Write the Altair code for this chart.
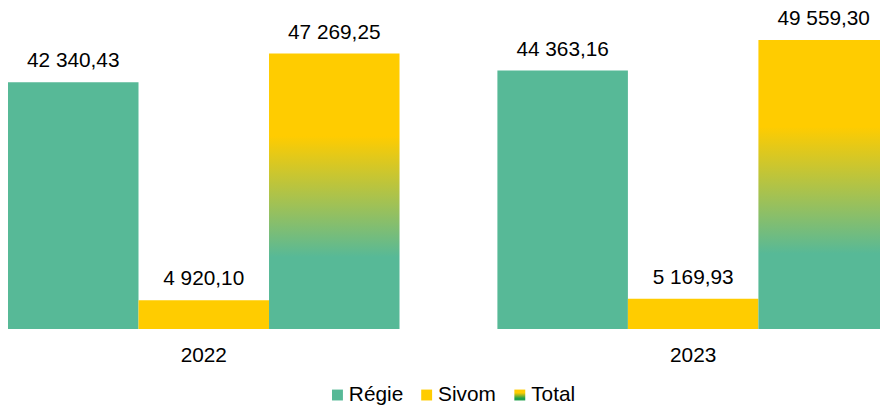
import altair as alt
import pandas as pd

years = ["2022", "2023"]
series = ["Régie", "Sivom", "Total"]
regie = [42340.43, 44363.16]
sivom = [4920.10, 5169.93]
total = [47269.25, 49559.30]

TEAL = "#57B997"
YELLOW = "#FFCC00"
GREEN = "#1FA04A"
FONT = "Liberation Sans"


def fr(v):
    return f"{v:,.2f}".replace(",", " ").replace(".", ",")


rows = []
for i, yr in enumerate(years):
    for s, vals in zip(series, [regie, sivom, total]):
        rows.append({"year": yr, "series": s, "value": vals[i], "label": fr(vals[i])})
df = pd.DataFrame(rows)

bar_grad = alt.Gradient(
    gradient="linear",
    stops=[
        alt.GradientStop(color=YELLOW, offset=0),
        alt.GradientStop(color=YELLOW, offset=0.3),
        alt.GradientStop(color=TEAL, offset=0.74),
        alt.GradientStop(color=TEAL, offset=1),
    ],
    x1=0, x2=0, y1=0, y2=1,
)

legend_grad_expr = (
    "{gradient: 'linear', x1: 0, y1: 0, x2: 0, y2: 1, stops: ["
    "{offset: 0, color: '" + YELLOW + "'}, {offset: 0.3, color: '" + YELLOW + "'},"
    "{offset: 0.8, color: '" + GREEN + "'}, {offset: 1, color: '" + GREEN + "'}]}"
)

x = alt.X(
    "year:N",
    scale=alt.Scale(paddingInner=0.2, paddingOuter=0),
    axis=alt.Axis(
        title=None, labelAngle=0, domain=False, ticks=False, grid=False,
        labelFont=FONT, labelFontSize=21, labelColor="#000000", labelPadding=16,
    ),
)
xo = alt.XOffset("series:N", scale=alt.Scale(domain=series, paddingInner=0, paddingOuter=0))
y = alt.Y("value:Q", scale=alt.Scale(domain=[0, 53400]), axis=None)
color = alt.Color(
    "series:N",
    scale=alt.Scale(domain=series, range=[TEAL, YELLOW, {"expr": legend_grad_expr}]),
    legend=alt.Legend(
        title=None, orient="none", direction="horizontal", legendX=322, legendY=370,
        symbolType="square", symbolSize=121, symbolStrokeWidth=0,
        labelFont=FONT, labelFontSize=21, labelColor="#000000", labelOffset=1,
        columnPadding=13,
    ),
)

base = alt.Chart(df)
bars = base.transform_filter("datum.series != 'Total'").mark_bar().encode(
    x=x, xOffset=xo, y=y, color=color
)
tot = base.transform_filter("datum.series == 'Total'").mark_bar(color=bar_grad).encode(
    x=x, xOffset=xo, y=y
)
text = base.mark_text(dy=-15, baseline="alphabetic", font=FONT, fontSize=21, color="#000000").encode(
    x=x, xOffset=xo, y=y, text="label:N"
)

chart = (
    alt.layer(bars, tot, text)
    .properties(
        width=889, height=314,
        autosize=alt.AutoSizeParams(type="none"),
        padding={"left": 0, "top": 8, "right": -9, "bottom": 75},
    )
    .configure_view(stroke=None)
)
chart.save("out.html", embed_options={"renderer": "svg", "actions": False})
